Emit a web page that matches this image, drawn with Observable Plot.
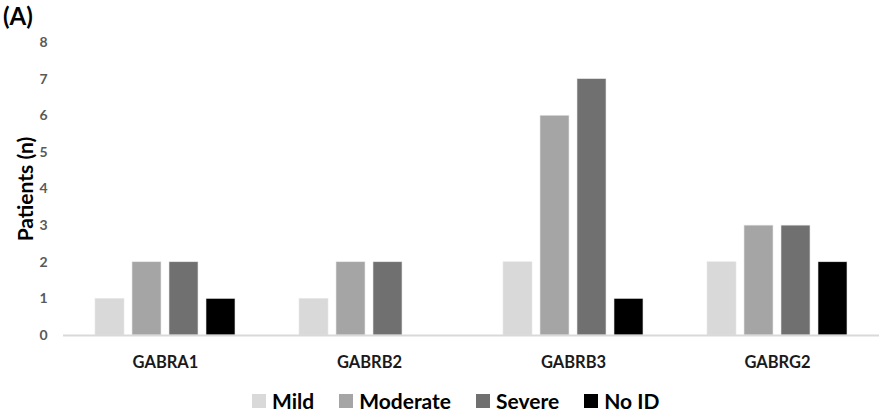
<!DOCTYPE html>
<html>
<head>
<meta charset="utf-8">
<script src="https://cdn.jsdelivr.net/npm/d3@7"></script>
<script src="https://cdn.jsdelivr.net/npm/@observablehq/plot@0.6"></script>
<style>
  body { margin: 0; background: #fff; font-family: Lato, "Open Sans", sans-serif; }
  #wrap { position: relative; width: 885px; height: 419px; }
  #tag { position: absolute; left: 3px; top: 1px; font: bold 24px Lato, sans-serif; color: #000; }
  #legend { position: absolute; left: 252px; top: 388px; }
  #legend * { font-family: Lato, sans-serif !important; font-weight: bold !important; font-size: 21px !important; color: #000; }
  #legend > div { margin: 0 !important; min-height: 0 !important; }
  #legend span { margin-right: 25px !important; }
  #legend svg { margin-right: 6px !important; }
</style>
</head>
<body>
<div id="wrap">
  <div id="chart"></div>
  <div id="tag">(A)</div>
  <div id="legend"></div>
</div>
<script>
const genes = ["GABRA1", "GABRB2", "GABRB3", "GABRG2"];
const severities = ["Mild", "Moderate", "Severe", "No ID"];
const colors = ["#d9d9d9", "#a5a5a5", "#707070", "#000000"];
const mild = [1, 1, 2, 2];
const moderate = [2, 2, 6, 3];
const severe = [2, 2, 7, 3];
const noID = [1, 0, 1, 2];
const yTicks = [0, 1, 2, 3, 4, 5, 6, 7, 8];

const series = [mild, moderate, severe, noID];
const data = [];
genes.forEach((g, i) => severities.forEach((s, j) => data.push({gene: g, severity: s, value: series[j][i]})));

const plot = Plot.plot({
  width: 885,
  height: 375,
  marginLeft: 61,
  marginRight: 5,
  marginTop: 42,
  marginBottom: 40,
  style: {fontFamily: "Lato, sans-serif", background: "#fff"},
  fx: {domain: genes, padding: 0, label: null},
  x: {domain: severities, paddingInner: 0.22, paddingOuter: 0.83, axis: null},
  y: {domain: [0, 8], label: null},
  color: {domain: severities, range: colors},
  marks: [
    Plot.barY(data.filter(d => d.value > 0), {fx: "gene", x: "severity", y: "value", fill: "severity", stroke: "#e8e8e8", strokeWidth: 0.6}),
    Plot.ruleY([0], {stroke: "#d9d9d9", strokeWidth: 2}),
    Plot.axisY({ticks: yTicks, tickSize: 0, tickPadding: 16, tickFormat: d3.format("d"), fontSize: 14, fontWeight: "bold", fill: "#595959", label: null}),
    Plot.axisY({ticks: [], label: "Patients (n)", labelAnchor: "center", labelArrow: "none", labelOffset: 45, fontSize: 21, fontWeight: "bold", fill: "#000"}),
    Plot.axisFx({anchor: "bottom", tickSize: 0, tickPadding: 21, fontSize: 16.5, fontWeight: "bold", fill: "#1a1a1a", label: null})
  ]
});
document.getElementById("chart").appendChild(plot);
document.getElementById("legend").appendChild(plot.legend("color", {legend: "swatches", swatchSize: 14}));
</script>
</body>
</html>
